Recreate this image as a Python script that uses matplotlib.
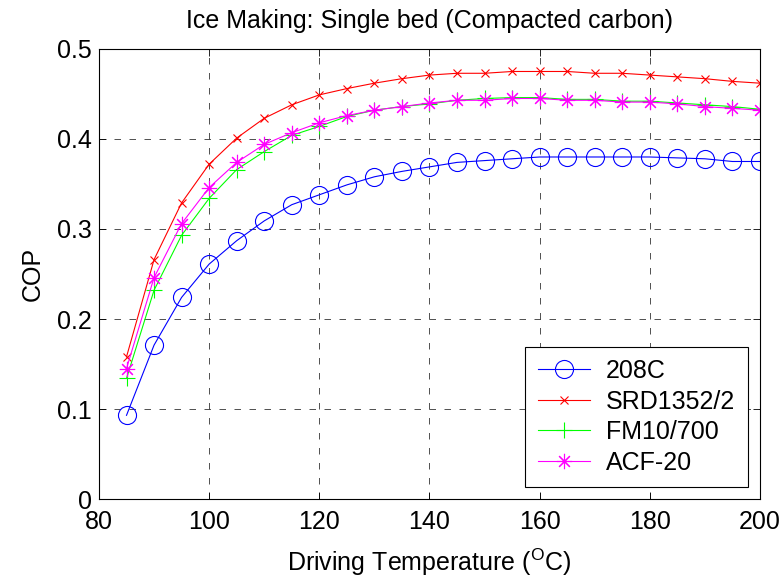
import matplotlib
matplotlib.use("Agg")
import matplotlib.pyplot as plt

plt.rcParams['font.family'] = ['Liberation Sans', 'DejaVu Sans']

# Driving temperature (°C)
temperature = [85, 90, 95, 100, 105, 110, 115, 120, 125, 130, 135, 140,
               145, 150, 155, 160, 165, 170, 175, 180, 185, 190, 195, 200]

# COP for each carbon
cop_208c = [0.093, 0.171, 0.224, 0.261, 0.287, 0.309, 0.327, 0.338, 0.349, 0.358, 0.364, 0.369,
            0.374, 0.376, 0.378, 0.380, 0.380, 0.380, 0.380, 0.380, 0.379, 0.378, 0.375, 0.375]
cop_srd = [0.158, 0.266, 0.329, 0.372, 0.401, 0.423, 0.438, 0.449, 0.456, 0.462, 0.467, 0.471,
           0.473, 0.473, 0.475, 0.475, 0.475, 0.473, 0.473, 0.471, 0.469, 0.467, 0.464, 0.462]
cop_fm = [0.134, 0.232, 0.293, 0.334, 0.366, 0.386, 0.404, 0.414, 0.425, 0.432, 0.436, 0.439,
          0.443, 0.445, 0.446, 0.446, 0.444, 0.444, 0.442, 0.442, 0.440, 0.438, 0.436, 0.433]
cop_acf = [0.145, 0.246, 0.306, 0.346, 0.374, 0.394, 0.407, 0.418, 0.426, 0.432, 0.436, 0.440,
           0.443, 0.443, 0.445, 0.445, 0.443, 0.443, 0.441, 0.441, 0.439, 0.436, 0.434, 0.432]

labels = ["208C", "SRD1352/2", "FM10/700", "ACF-20"]

FS = 18

fig = plt.figure(figsize=(7.83, 5.81), dpi=100)
ax = fig.add_axes([0.1264, 0.1411, 0.8442, 0.7746])

lw = 0.8
ax.plot(temperature, cop_208c, color=(0, 0, 1), lw=lw, marker='o', ms=13,
        mfc='none', mew=lw, label=labels[0])
ax.plot(temperature, cop_srd, color=(1, 0, 0), lw=lw, marker='x', ms=6,
        mew=lw, label=labels[1])
ax.plot(temperature, cop_fm, color=(0, 1, 0), lw=lw, marker='+', ms=11,
        mew=lw, label=labels[2])
ax.plot(temperature, cop_acf, color=(1, 0, 1), lw=lw, marker=(8, 2, 0), ms=11,
        mew=lw, label=labels[3])

ax.set_xlim(80, 200)
ax.set_ylim(0, 0.5)
ax.set_xticks(range(80, 201, 20))
ax.set_yticks([0, 0.1, 0.2, 0.3, 0.4, 0.5])
ax.set_yticklabels(["0", "0.1", "0.2", "0.3", "0.4", "0.5"])
ax.tick_params(direction='in', top=True, right=True, labelsize=FS, length=5, width=0.6)
ax.tick_params(axis='x', pad=8)
ax.tick_params(axis='y', pad=5)
ax.grid(True, color='0.2', linestyle=(0, (7.8, 10.2)), linewidth=0.6)
for sp in ax.spines.values():
    sp.set_linewidth(0.8)

ax.set_title("Ice Making: Single bed (Compacted carbon)", fontsize=FS, pad=15)
ax.set_xlabel("Driving Temperature ($\\mathregular{^{O}}$C)", fontsize=FS, labelpad=9)
ax.set_ylabel("COP", fontsize=FS, labelpad=9)

leg = ax.legend(loc='lower right', fontsize=FS, fancybox=False, framealpha=1,
                edgecolor='black', borderaxespad=0.48, handlelength=2.1,
                handletextpad=0.64, labelspacing=0.26, borderpad=0.5)
leg.get_frame().set_linewidth(0.8)

fig.savefig("out.png", dpi=100, facecolor='white')
